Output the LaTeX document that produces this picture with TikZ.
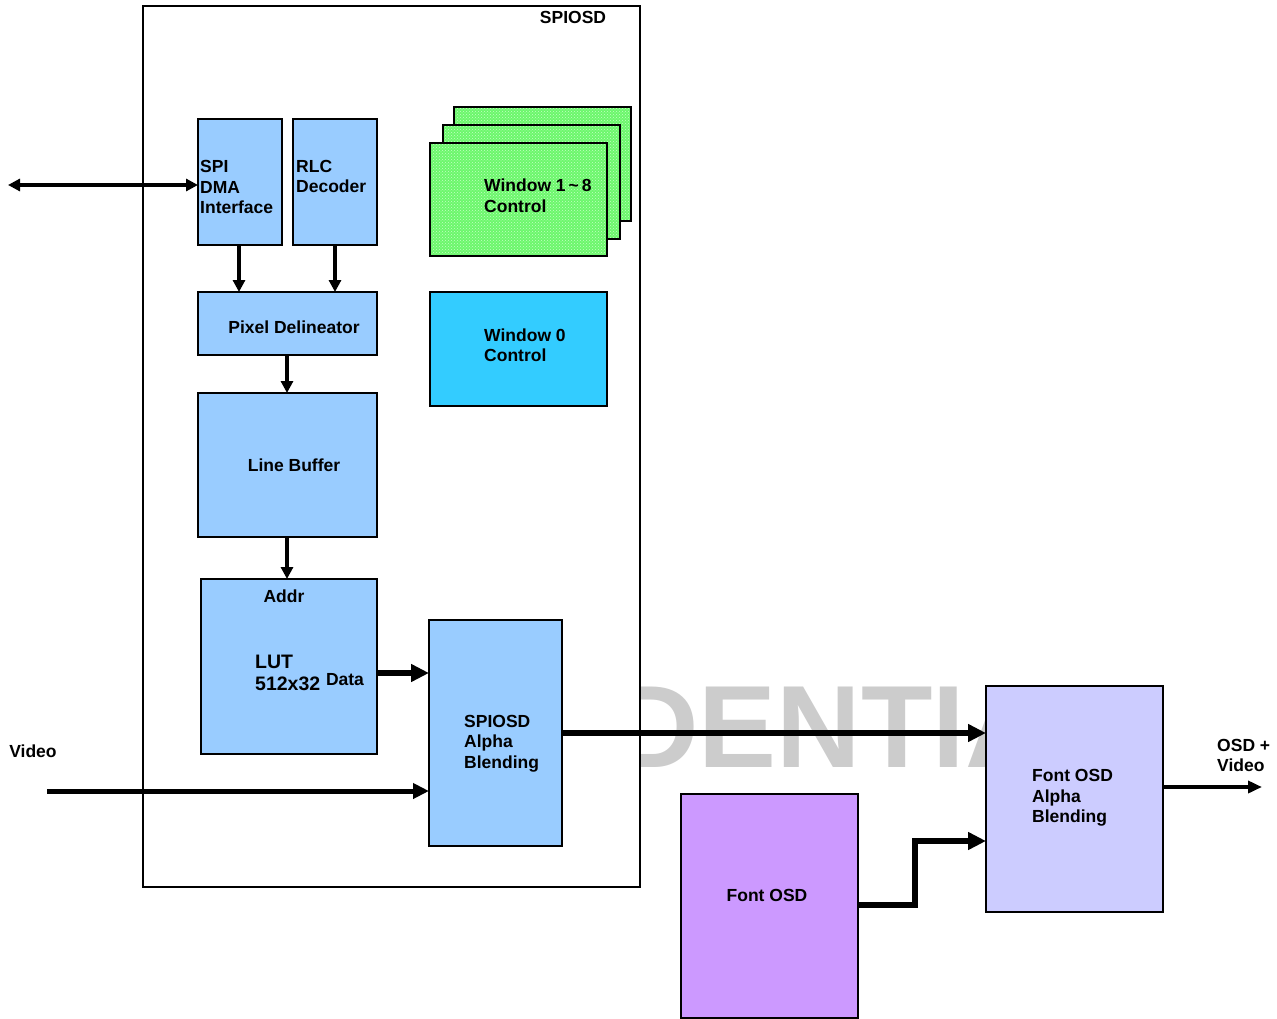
\documentclass[tikz,border=0pt]{standalone}
\usepackage{fontspec}
\setmainfont{Liberation Sans}
\usetikzlibrary{arrows.meta,patterns,calc}
\definecolor{lblue}{HTML}{99CCFF}
\definecolor{cyanbox}{HTML}{33CCFF}
\definecolor{greenbox}{HTML}{6CF76C}
\definecolor{greendot}{HTML}{C4FFC4}
\definecolor{purplebox}{HTML}{CC99FF}
\definecolor{lavbox}{HTML}{CCCCFF}
\definecolor{wmgray}{HTML}{CCCCCC}
\tikzset{
  blk/.style={draw=black, line width=1.2pt, inner sep=0pt, outer sep=0pt, anchor=north west},
  txt/.style={font=\bfseries\fontsize{17.5}{20.5}\selectfont, inner sep=0pt, align=left},
  bigtxt/.style={font=\bfseries\fontsize{19.5}{22}\selectfont, inner sep=0pt, align=left},
  arr/.style={line width=3.5pt, -{Triangle[length=12pt,width=12pt]}},
  dbl/.style={line width=3.5pt, {Triangle[length=12pt,width=12pt]}-{Triangle[length=12pt,width=12pt]}},
  bigarr/.style={line width=6pt, -{Triangle[length=18pt,width=17pt]}},
  outarr/.style={line width=4pt, -{Triangle[length=14pt,width=12pt]}},
  grn/.style={blk, preaction={fill=greenbox}, pattern=crosshatch dots, pattern color=greendot}
}
\begin{document}
\begin{tikzpicture}[x=1pt,y=-1pt]
\useasboundingbox (0,0) rectangle (1277,1019);
% watermark (only the part that shows)
\begin{scope}
\clip (640,670) rectangle (986,780);
\node[font=\bfseries\fontsize{117}{117}\selectfont, text=wmgray, inner sep=0pt, anchor=base west] (wm) at (614,767) {DENTIA};
\end{scope}
% outer SPIOSD box
\node[draw=black, line width=2.5pt, fill=white, minimum width=497pt, minimum height=881pt, inner sep=0pt, outer sep=0pt, anchor=north west] (spiosd) at (143,6) {};
\node[txt, anchor=center] (spiosdt) at (573,17) {SPIOSD};
% blocks
\node[blk, fill=lblue, minimum width=84pt, minimum height=126pt] (spi) at (198,119) {};
\node[txt, anchor=west] (spit) at (200,187) {SPI\\DMA\\Interface};
\node[blk, fill=lblue, minimum width=84pt, minimum height=126pt] (rlc) at (293,119) {};
\node[txt, anchor=west] (rlct) at (296,176.5) {RLC\\Decoder};
\node[grn, minimum width=177pt, minimum height=114pt] (w3) at (454,107) {};
\node[grn, minimum width=177pt, minimum height=114pt] (w2) at (443,125) {};
\node[grn, minimum width=177pt, minimum height=113pt] (w1) at (430,143) {};
\node[txt, anchor=west] (w1t) at (484,195.5) {Window 1\hspace{3pt}\char"007E\hspace{3pt}8\\Control};
\node[blk, fill=lblue, minimum width=179pt, minimum height=63pt] (pix) at (198,292) {};
\node[txt, anchor=center] (pixt) at (294,327) {Pixel Delineator};
\node[blk, fill=cyanbox, minimum width=177pt, minimum height=114pt] (w0) at (430,292) {};
\node[txt, anchor=west] (w0t) at (484,345) {Window 0\\Control};
\node[blk, fill=lblue, minimum width=179pt, minimum height=144pt] (lb) at (198,393) {};
\node[txt, anchor=center] (lbt) at (294,465) {Line Buffer};
\node[blk, fill=lblue, minimum width=176pt, minimum height=175pt] (lut) at (201,579) {};
\node[txt, anchor=center] (addr) at (284,596) {Addr};
\node[bigtxt, anchor=west] (lutt) at (255,673) {LUT\\512x32};
\node[txt, anchor=center] (data) at (345,680) {Data};
\node[blk, fill=lblue, minimum width=133pt, minimum height=226pt] (sab) at (429,620) {};
\node[txt, anchor=west] (sabt) at (464,743.5) {SPIOSD\\Alpha\\Blending};
\node[blk, fill=purplebox, minimum width=177pt, minimum height=224pt] (fosd) at (681,794) {};
\node[txt, anchor=center] (fosdt) at (767,895) {Font OSD};
\node[blk, fill=lavbox, minimum width=177pt, minimum height=226pt] (fab) at (986,686) {};
\node[txt, anchor=west] (fabt) at (1032,798) {Font OSD\\Alpha\\Blending};
% labels
\node[txt, anchor=center] (vidl) at (33,751) {Video};
\node[txt, anchor=west] (outl) at (1217,755.5) {OSD +\\Video};
% connectors
\coordinate (lin) at (8,185);
\draw[dbl] (lin) -- (lin -| spi.west);
\draw[arr] (239,245) -- (239,292);
\draw[arr] (rlc.south) -- (rlc.south |- pix.north);
\draw[arr] (287,355) -- (287,393);
\draw[arr] (287,537) -- (287,579);
\coordinate (lutout) at (377,673);
\draw[bigarr] (lutout) -- (lutout -| sab.west);
\coordinate (vin) at (47,791);
\draw[line width=5pt, -{Triangle[length=16pt,width=15pt]}] (vin) -- (vin -| sab.west);
\draw[bigarr] (sab.east) -- (sab.east -| fab.west);
\coordinate (fin) at (986,841);
\draw[bigarr] (fosd.east |- 0,905) -- (915,905) |- (fin);
\coordinate (out) at (1262,787);
\draw[outarr] (fab.east |- out) -- (out);
\end{tikzpicture}
\end{document}
